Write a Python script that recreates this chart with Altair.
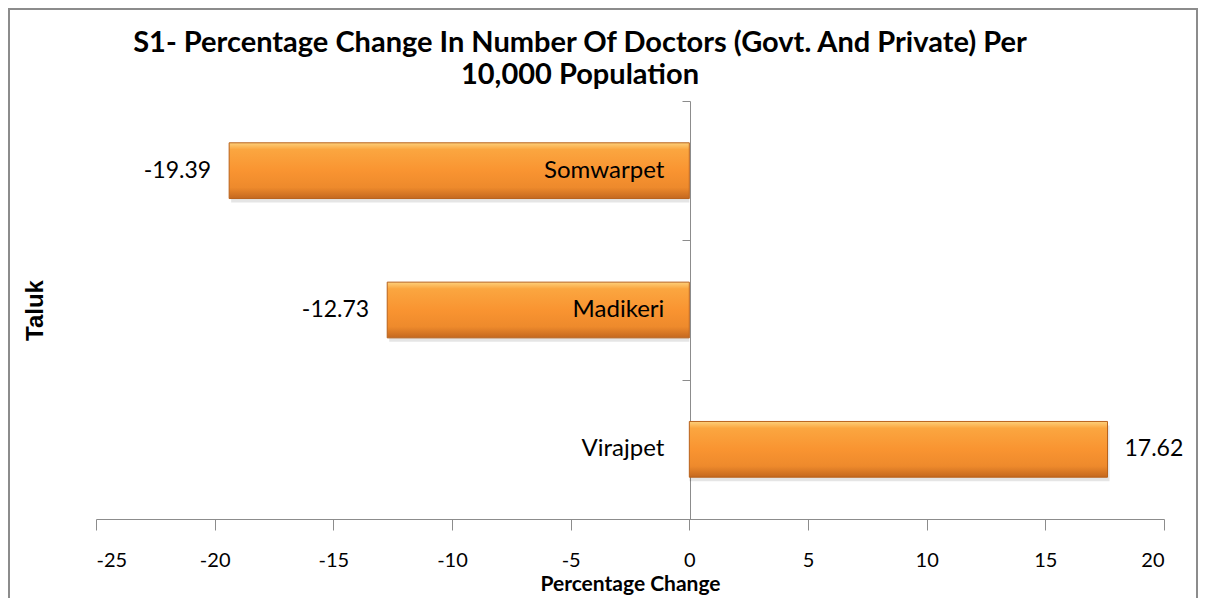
import altair as alt
import pandas as pd

taluks = ["Somwarpet", "Madikeri", "Virajpet"]
changes = [-19.39, -12.73, 17.62]
x_ticks = [-25, -20, -15, -10, -5, 0, 5, 10, 15, 20]
title_lines = ["S1- Percentage Change In Number Of Doctors (Govt. And Private) Per",
               "10,000 Population"]

df = pd.DataFrame({"taluk": taluks, "change": changes})
df["label"] = df["change"].map(lambda v: f"{v:.2f}")

W, H = 1068, 418
PL, PT, PR, PB = 88, 93, 34, 79
FONT = "Lato"

xscale = alt.Scale(domain=[-25, 20], nice=False, zero=False)
yscale = alt.Scale(paddingInner=0, paddingOuter=0)
ysort = alt.Y("taluk:N", sort=taluks, scale=yscale)
band = alt.RelativeBandSize(band=0.4)

base = alt.Chart(df)

gradient = alt.Gradient(
    gradient="linear",
    x1=0, y1=0, x2=0, y2=1,
    stops=[
        alt.GradientStop(color="#FDD07A", offset=0.0),
        alt.GradientStop(color="#FBA640", offset=0.12),
        alt.GradientStop(color="#F99431", offset=0.5),
        alt.GradientStop(color="#EE8A2C", offset=0.8),
        alt.GradientStop(color="#C4681F", offset=1.0),
    ],
)

shadow = base.mark_bar(fill="#000000", opacity=0.10, yOffset=4, xOffset=2, height=band).encode(
    x="change:Q", x2=alt.datum(0), y=ysort)

bars = base.mark_bar(fill=gradient, stroke="#B8621C", strokeWidth=1, height=band).encode(
    x=alt.X("change:Q", scale=xscale,
            axis=alt.Axis(values=x_ticks, title="Percentage Change", grid=False,
                          labelExpr="'' + datum.value",
                          domainColor="#8C8C8C", tickColor="#8C8C8C", tickSize=11,
                          labelFontSize=20, labelColor="black", labelFont=FONT,
                          labelPadding=20, titleFontSize=21, titleFont=FONT,
                          titleFontWeight="bold", titleColor="black", titlePadding=3)),
    x2=alt.datum(0),
    y=alt.Y("taluk:N", sort=taluks, scale=yscale,
            axis=alt.Axis(title="Taluk", labels=False, offset=-594, tickBand="extent",
                          domainColor="#8C8C8C", tickColor="#8C8C8C", tickSize=8,
                          titleFontSize=24, titleFont="Liberation Sans", titleFontWeight="bold",
                          titleColor="black", titleX=-655, titleY=H / 2,
                          titleAngle=270, titleAlign="center", titleBaseline="middle")),
)

cat_labels = base.mark_text(align="right", baseline="middle", dx=-25, fontSize=24,
                            font=FONT, color="black").encode(
    x=alt.datum(0), y=ysort, text="taluk:N")

neg_labels = base.transform_filter("datum.change < 0").mark_text(
    align="right", baseline="middle", dx=-18, fontSize=23, font=FONT, color="black"
).encode(x="change:Q", y=ysort, text="label:N")

pos_labels = base.transform_filter("datum.change >= 0").mark_text(
    align="left", baseline="middle", dx=17, fontSize=23, font=FONT, color="black"
).encode(x="change:Q", y=ysort, text="label:N")

one = alt.Chart(pd.DataFrame({"a": [0]}))

border = one.mark_rect(fill=None, stroke="#8C8C8C", strokeWidth=2).encode(
    x=alt.value(-PL + 1), x2=alt.value(W + PR - 1),
    y=alt.value(-PT + 1), y2=alt.value(H + PB + 20))

title = one.mark_text(align="center", baseline="alphabetic", fontSize=29, font=FONT,
                      fontWeight="bold", color="black", lineHeight=32).encode(
    x=alt.value(484), y=alt.value(-49), text=alt.value(title_lines))

chart = alt.layer(border, shadow, bars, cat_labels, neg_labels, pos_labels, title).properties(
    width=W, height=H,
    autosize=alt.AutoSizeParams(type="none"),
    padding={"left": PL, "top": PT, "right": PR, "bottom": PB},
).configure(background="white").configure_view(stroke=None)

chart.save("out.html", embed_options={"renderer": "svg", "actions": False})
